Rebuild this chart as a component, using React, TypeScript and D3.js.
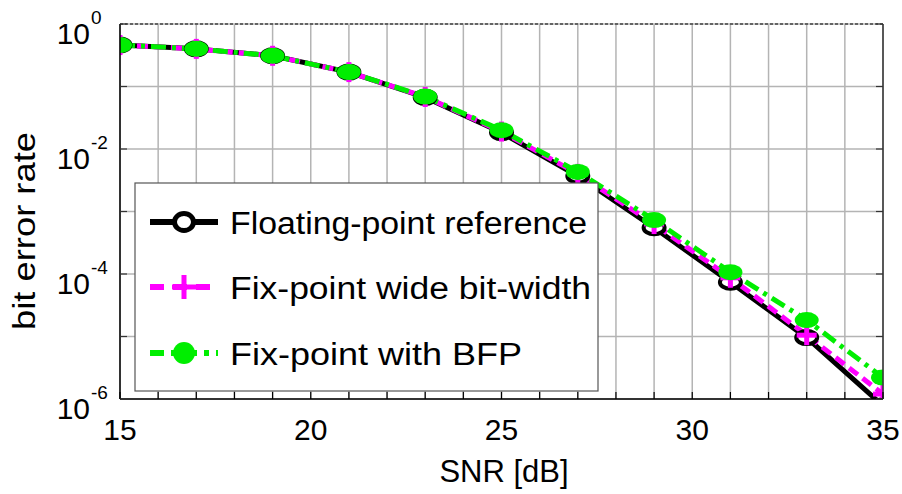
import React from 'react';
import * as d3 from 'd3';

const SNR = [15, 17, 19, 21, 23, 25, 27, 29, 31, 33, 35];
const FLOATING = [0.46, 0.40, 0.31, 0.17, 0.067, 0.0183, 0.0037, 5.5e-4, 7.4e-5, 9.6e-6, 7.8e-7];
const FIX_WIDE = [0.46, 0.40, 0.31, 0.17, 0.068, 0.019, 0.0040, 6.3e-4, 8.7e-5, 1.05e-5, 1.2e-6];
const FIX_BFP = [0.46, 0.40, 0.31, 0.17, 0.069, 0.020, 0.0043, 7.3e-4, 1.07e-4, 1.83e-5, 2.2e-6];

const X_TICKS = [15, 20, 25, 30, 35];
const Y_EXPONENTS = [0, -2, -4, -6];
const LEGEND_LABELS = ['Floating-point reference', 'Fix-point wide bit-width', 'Fix-point with BFP'];

const W = 902;
const H = 494;
const M = { left: 120, right: 883, top: 24, bottom: 399 };
const FONT = '"Liberation Sans", Arial, Helvetica, sans-serif';

const GREEN = '#00ee00';
const MAGENTA = '#ff00ff';

export default function App() {
  const x = d3.scaleLinear().domain([15, 35]).range([M.left, M.right]);
  const y = d3.scaleLog().domain([1e-6, 1]).range([M.bottom, M.top]);

  const line = d3.line<number>()
    .x((_, i) => x(SNR[i]))
    .y(d => y(d));

  const xGrid = d3.range(15, 36, 1);
  const yGrid = d3.range(0, -7, -1).map(e => Math.pow(10, e));

  const plotted = [
    { data: FLOATING, color: '#000', dash: null as string | null },
    { data: FIX_WIDE, color: MAGENTA, dash: '11,6' },
    { data: FIX_BFP, color: GREEN, dash: '15,6,4,6' },
  ];

  const plus = (cx: number, cy: number, s: number, key: string) => (
    <g key={key}>
      <line x1={cx - s} x2={cx + s} y1={cy} y2={cy} stroke={MAGENTA} strokeWidth={5} />
      <line x1={cx} x2={cx} y1={cy - s} y2={cy + s} stroke={MAGENTA} strokeWidth={5} />
    </g>
  );

  const legendRows = [222, 287, 353];

  return (
    <svg width={W} height={H} style={{ position: 'absolute', left: 0, top: 0, background: '#fff' }}
      fontFamily={FONT}>
      <defs>
        <clipPath id="plot-clip">
          <rect x={M.left} y={M.top} width={M.right - M.left} height={M.bottom - M.top} />
        </clipPath>
      </defs>

      {/* grid */}
      {xGrid.map(v => (
        <line key={'gx' + v} x1={x(v)} x2={x(v)} y1={M.top} y2={M.bottom} stroke="#b4b4b4" strokeWidth={1.5} />
      ))}
      {yGrid.map(v => (
        <line key={'gy' + v} x1={M.left} x2={M.right} y1={y(v)} y2={y(v)} stroke="#b4b4b4" strokeWidth={1.5} />
      ))}

      {/* series */}
      <g clipPath="url(#plot-clip)">
        {plotted.map((s, i) => (
          <path key={'s' + i} d={line(s.data) || ''} fill="none" stroke={s.color} strokeWidth={5}
            strokeDasharray={s.dash || undefined} strokeLinejoin="round" />
        ))}
        {FLOATING.map((v, i) => (
          <ellipse key={'mb' + i} cx={x(SNR[i])} cy={y(v)} rx={10.5} ry={6.5} fill="#fff" stroke="#000" strokeWidth={4} />
        ))}
        {FIX_WIDE.map((v, i) => plus(x(SNR[i]), y(v), 10, 'mm' + i))}
        {FIX_BFP.map((v, i) => (
          <ellipse key={'mg' + i} cx={x(SNR[i])} cy={y(v)} rx={12} ry={8} fill={GREEN} />
        ))}
      </g>

      {/* frame */}
      <line x1={M.left} x2={M.right} y1={M.top} y2={M.top} stroke="#444" strokeWidth={1.5} strokeDasharray="3,2" />
      <line x1={M.left} x2={M.left} y1={M.top} y2={M.bottom} stroke="#000" strokeWidth={1.5} />
      <line x1={M.right} x2={M.right} y1={M.top} y2={M.bottom} stroke="#333" strokeWidth={1.5} />
      <line x1={M.left} x2={M.right} y1={M.bottom} y2={M.bottom} stroke="#000" strokeWidth={1.5} />
      {xGrid.map(v => (
        <line key={'tx' + v} x1={x(v)} x2={x(v)} y1={M.bottom} y2={M.bottom - 7} stroke="#000" strokeWidth={1.2} />
      ))}
      {yGrid.map(v => (
        <g key={'ty' + v}>
          <line x1={M.left} x2={M.left + 7} y1={y(v)} y2={y(v)} stroke="#333" strokeWidth={1.2} />
          <line x1={M.right} x2={M.right - 7} y1={y(v)} y2={y(v)} stroke="#333" strokeWidth={1.2} />
        </g>
      ))}

      {/* legend */}
      <rect x={135} y={183} width={463} height={208} fill="#fff" stroke="#555" strokeWidth={1.2} />
      {legendRows.map((ry, i) => (
        <g key={'lg' + i}>
          <line x1={150} x2={218} y1={ry} y2={ry} stroke={plotted[i].color} strokeWidth={6}
            strokeDasharray={i === 1 ? '14,9' : i === 2 ? '14,7,5,7' : undefined} />
          {i === 0 && <ellipse cx={184} cy={ry} rx={9.5} ry={8.5} fill="#fff" stroke="#000" strokeWidth={5} />}
          {i === 1 && plus(184, ry, 12, 'lp')}
          {i === 2 && <ellipse cx={184} cy={ry} rx={11} ry={11} fill={GREEN} />}
          <text x={230} y={ry + 12} fontSize={31} textLength={[357, 361, 292][i]}
            lengthAdjust="spacingAndGlyphs">{LEGEND_LABELS[i]}</text>
        </g>
      ))}

      {/* tick labels */}
      {X_TICKS.map(v => (
        <text key={'xl' + v} x={x(v)} y={440} fontSize={30} textAnchor="middle">{v}</text>
      ))}
      {Y_EXPONENTS.map(e => {
        const ty = y(Math.pow(10, e));
        return (
          <g key={'yl' + e}>
            <text x={90} y={ty + 20} fontSize={30} textAnchor="end">10</text>
            <text x={91} y={ty} fontSize={19}>{e === 0 ? '0' : '-' + Math.abs(e)}</text>
          </g>
        );
      })}

      {/* axis titles */}
      <text x={504} y={482} fontSize={31} textAnchor="middle">SNR [dB]</text>
      <text transform="translate(35,231) rotate(-90)" fontSize={32} textAnchor="middle"
        textLength={198} lengthAdjust="spacingAndGlyphs">bit error rate</text>
    </svg>
  );
}
